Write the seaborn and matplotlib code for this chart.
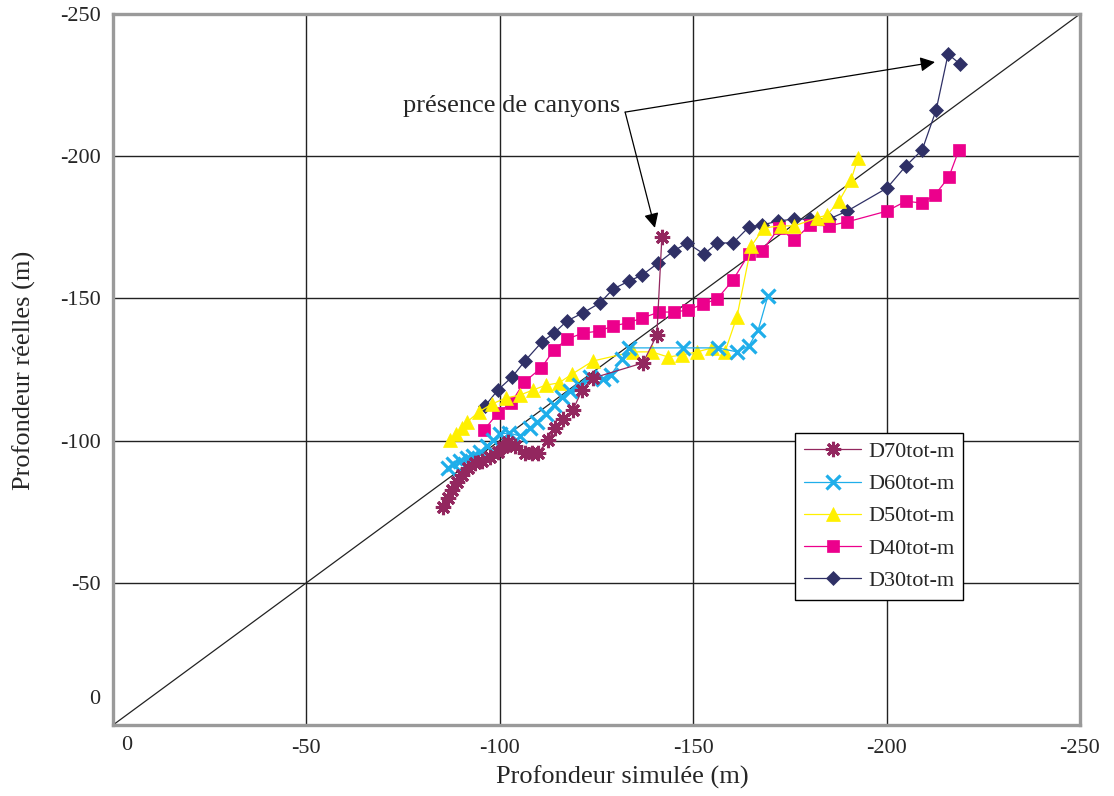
import numpy as np
import pandas as pd
import seaborn as sns
import matplotlib.pyplot as plt

# values (depths in m, negative downward)
d30_x = [-96.2, -99.5, -103.2, -106.5, -110.9, -114.0, -117.4, -121.5, -125.9, -129.3,
         -133.4, -136.8, -140.9, -145.0, -148.4, -152.8, -156.2, -160.3, -164.4, -167.8,
         -171.9, -176.1, -180.2, -185.1, -189.8, -200.1, -205.0, -209.2, -212.8, -215.9, -219.0]
d30_y = [-112.2, -117.8, -122.4, -128.0, -134.7, -137.8, -142.1, -144.9, -148.4, -153.3,
         -156.1, -158.2, -162.4, -166.7, -169.5, -165.6, -169.5, -169.5, -175.1, -175.8,
         -177.2, -177.9, -177.9, -177.9, -180.7, -188.8, -196.6, -202.2, -216.2, -235.9, -232.4]

d40_x = [-95.9, -99.5, -102.9, -106.3, -110.7, -114.0, -117.4, -121.5, -125.6, -129.3,
         -133.1, -136.8, -141.2, -145.0, -148.7, -152.5, -156.2, -160.3, -164.4, -167.8,
         -172.2, -176.1, -180.2, -185.1, -189.8, -200.1, -205.0, -209.2, -212.5, -216.1, -218.7]
d40_y = [-103.7, -109.7, -113.2, -120.6, -125.5, -131.9, -135.7, -137.8, -138.5, -140.3,
         -141.4, -143.1, -145.2, -145.2, -145.9, -148.0, -149.8, -156.5, -165.6, -166.7,
         -174.8, -170.5, -175.8, -175.5, -176.9, -180.7, -184.2, -183.5, -186.4, -192.7, -202.2]

d50_x = [-87.1, -88.7, -90.2, -91.5, -94.6, -98.0, -101.6, -105.2, -108.6, -111.9,
         -115.3, -118.7, -124.1, -134.4, -139.3, -143.5, -147.1, -151.0, -154.9, -158.2,
         -161.3, -165.0, -168.3, -172.7, -176.1, -182.0, -184.6, -187.7, -190.8, -192.6]
d50_y = [-100.2, -102.3, -104.4, -106.5, -110.1, -112.9, -115.0, -116.0, -117.8, -119.5,
         -120.3, -123.4, -128.0, -131.2, -131.2, -129.4, -130.1, -131.2, -132.6, -131.2,
         -143.5, -168.4, -174.8, -175.5, -175.5, -178.3, -179.3, -184.2, -191.6, -199.4]

d60_x = [-86.6, -87.9, -89.7, -91.5, -93.1, -94.9, -96.7, -98.2, -100.1, -102.4,
         -105.2, -107.8, -109.6, -111.9, -114.0, -116.1, -118.1, -120.5, -123.3, -126.7,
         -128.7, -131.6, -133.4, -147.4, -156.4, -161.3, -164.4, -166.8, -169.3]
d60_y = [-90.4, -91.8, -92.8, -93.9, -94.6, -96.0, -98.1, -100.2, -102.3, -102.7,
         -101.6, -104.4, -106.5, -109.4, -112.5, -115.3, -117.4, -119.5, -122.4, -121.7,
         -123.1, -128.7, -132.6, -132.6, -132.6, -131.2, -133.3, -138.9, -150.8]

d70_x = [-85.3, -86.6, -87.6, -88.9, -90.2, -91.8, -93.6, -95.4, -97.5, -99.5,
         -100.8, -102.1, -103.9, -106.5, -108.3, -109.9, -112.5, -114.3, -116.3, -118.9,
         -121.3, -124.1, -137.0, -140.6, -141.9]
d70_y = [-76.7, -79.8, -82.6, -85.4, -87.9, -90.4, -92.1, -92.8, -94.2, -96.0,
         -97.7, -99.5, -98.1, -95.6, -95.6, -95.6, -100.2, -104.4, -107.6, -110.8,
         -117.8, -122.0, -127.3, -137.1, -171.6]

names = ["D70tot-m", "D60tot-m", "D50tot-m", "D40tot-m", "D30tot-m"]
colors = ["#93275F", "#1FAEEA", "#FFF000", "#EC008C", "#2F3066"]

xticks = [0, -50, -100, -150, -200, -250]
yticks = [-250, -200, -150, -100, -50]
grid_vals = [-50, -100, -150, -200]

sns.set_style("white")
plt.rcParams["font.family"] = ["Liberation Serif", "DejaVu Serif"]

fig = plt.figure(figsize=(11.14, 7.96), dpi=100)
ax = fig.add_axes([113 / 1114, 1 - 725 / 796, 967 / 1114, 711 / 796])

# 1:1 reference line
ax.axline((0, 0), slope=1, color="#222222", lw=0.9, zorder=2)

styles = {
    "D30tot-m": dict(marker="D", markersize=7, markeredgewidth=0.5),
    "D40tot-m": dict(marker="s", markersize=8, markeredgewidth=0.5),
    "D50tot-m": dict(marker="^", markersize=10, markeredgewidth=0.5),
    "D60tot-m": dict(marker="x", markersize=9.5, markeredgewidth=2.3),
    "D70tot-m": dict(marker=(8, 2, 0), markersize=11, markeredgewidth=2.2),
}
data = {
    "D30tot-m": (d30_x, d30_y),
    "D40tot-m": (d40_x, d40_y),
    "D50tot-m": (d50_x, d50_y),
    "D60tot-m": (d60_x, d60_y),
    "D70tot-m": (d70_x, d70_y),
}

handles = {}
for name in names[::-1]:
    col = colors[names.index(name)]
    xs, ys = data[name]
    sns.lineplot(x=xs, y=ys, sort=False, estimator=None, color=col, linewidth=0.9,
                 markerfacecolor=col, markeredgecolor=col, label=name, ax=ax,
                 zorder=3, **styles[name])
    handles[name] = ax.get_lines()[-1]

for v in grid_vals:
    ax.axhline(v, color="#222222", lw=1.0, zorder=1)
    ax.axvline(v, color="#222222", lw=1.0, zorder=1)

ax.set_xlim(0, -250)
ax.set_ylim(0, -250)

ax.set_xticks(xticks, labels=[""] + [str(t) for t in xticks[1:]])
ax.set_xticks(np.arange(0, -251, -10), minor=True)
ax.set_yticks(yticks, labels=[str(t) for t in yticks])
ymin = np.arange(0, -251, -10)
ax.set_yticks(ymin, labels=["0" if v == -10 else "" for v in ymin], minor=True)

ax.tick_params(which="both", direction="out", length=6, width=1, color="#444444",
               labelsize=16, pad=3)
ax.tick_params(axis="x", which="both", length=5, pad=5)
ax.text(-3.6, -0.016, "0", transform=ax.get_xaxis_transform(), ha="center", va="top",
        fontsize=16)

for sp in ax.spines.values():
    sp.set_color("#9a9a9a")
    sp.set_linewidth(2.4)

ax.set_xlabel("Profondeur simulée (m)", fontsize=19)
ax.set_ylabel("Profondeur réelles (m)", fontsize=19)
ax.xaxis.set_label_coords(0.527, -0.057)
ax.yaxis.set_label_coords(-0.080, 0.499)

# annotation
ax.text(-131.2, -217.6, "présence de canyons", ha="right", va="center", fontsize=19)
start = (-132.4, -215.5)
for end in [(-212.5, -233.1), (-140.1, -174.8)]:
    ax.annotate("", xy=end, xytext=start,
                arrowprops=dict(arrowstyle="-|>", color="black", lw=0.9,
                                mutation_scale=22, shrinkA=0, shrinkB=0))

leg = ax.legend([handles[n] for n in names], names, loc="upper left",
                bbox_to_anchor=(0.705, 0.411), borderaxespad=0, fontsize=16,
                frameon=True, fancybox=False, framealpha=1, edgecolor="black",
                handlelength=2.6, handletextpad=0.3, labelspacing=0.52, borderpad=0.4)
leg.get_frame().set_linewidth(1.0)

fig.savefig("out.png", dpi=100)
